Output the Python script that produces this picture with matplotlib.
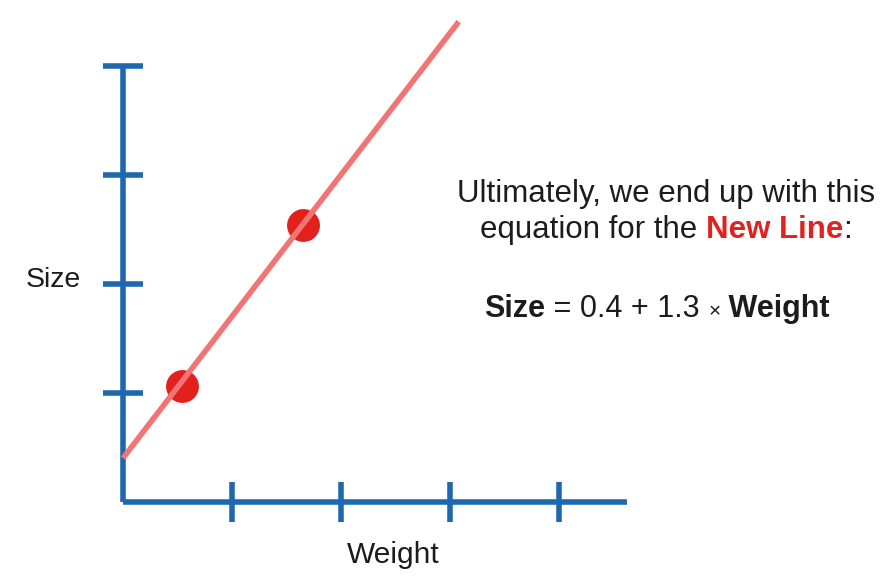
import matplotlib
matplotlib.use("Agg")
import matplotlib.pyplot as plt
import numpy as np

# data (1 tick = 1 unit)
weight = [0.54, 1.65]
size = [1.06, 2.54]
intercept = 0.4
slope = 1.3
x_ticks = [1, 2, 3, 4]
y_ticks = [1, 2, 3, 4]
line_x = [0, 3.08]

blue = "#1f68ae"
line_red = "#f37474"
dot_red = "#e2211c"
text_red = "#e02220"
ink = "#1c1c1c"

plt.rcParams['font.family'] = ['Liberation Sans', 'DejaVu Sans']

W, H = 890, 580
fig = plt.figure(figsize=(W / 100, H / 100), dpi=100)
ax = fig.add_axes([0, 0, 1, 1])
px = 109.0  # pixels per unit
ox, oy = 123, 501.7
ax.set_xlim(-ox / px, (W - ox) / px)
ax.set_ylim(-(H - oy) / px, oy / px)
ax.axis("off")

lw = 4
half = 20 / px
# axes
ax.plot([0, (627 - ox) / px], [0, 0], color=blue, lw=lw, solid_capstyle="butt", zorder=2)
ax.plot([0, 0], [0, y_ticks[-1]], color=blue, lw=lw, solid_capstyle="butt", zorder=2)
ax.plot([0, 0], [0, 0], color=blue, lw=lw, zorder=2)
for t in x_ticks:
    ax.plot([t, t], [-half, half], color=blue, lw=lw, solid_capstyle="butt", zorder=2)
for t in y_ticks:
    ax.plot([-half, half], [t, t], color=blue, lw=lw, solid_capstyle="butt", zorder=2)

# points and fitted line
ax.scatter(weight, size, s=560, color=dot_red, zorder=3, linewidths=0)
lx = np.array(line_x)
ax.plot(lx, intercept + slope * lx, color=line_red, lw=4, zorder=4, solid_capstyle="butt")

fig.text(53 / W, 1 - 287 / H, "Size", ha="center", va="baseline", fontsize=20.5, color=ink)
fig.text(393 / W, 1 - 563 / H, "Weight", ha="center", va="baseline", fontsize=21.5, color=ink)


def rich_line(cx, base_y, parts):
    # parts: list of (text, kwargs); centered at cx (pixels), baseline base_y (pixels)
    fig.canvas.draw()
    r = fig.canvas.get_renderer()
    texts = []
    for s, kw in parts:
        t = fig.text(0, 1 - base_y / H, s, ha="left", va="baseline", **kw)
        texts.append(t)
    widths = [t.get_window_extent(r).width for t in texts]
    x = cx - sum(widths) / 2
    for t, w in zip(texts, widths):
        t.set_x(x / W)
        x += w


fs = 22.5
fig.text(666 / W, 1 - 202 / H, "Ultimately, we end up with this", ha="center",
         va="baseline", fontsize=fs, color=ink)
rich_line(666, 238, [
    ("equation for the ", dict(fontsize=fs, color=ink)),
    ("New Line", dict(fontsize=fs, color=text_red, fontweight="bold")),
    (":", dict(fontsize=fs, color=ink)),
])
rich_line(657, 317, [
    ("Size", dict(fontsize=22, color=ink, fontweight="bold")),
    (" = 0.4 + 1.3 ", dict(fontsize=22, color=ink)),
    ("\u00d7", dict(fontsize=15, color=ink)),
    (" Weight", dict(fontsize=22, color=ink, fontweight="bold")),
])

fig.savefig("out.png", dpi=100)
